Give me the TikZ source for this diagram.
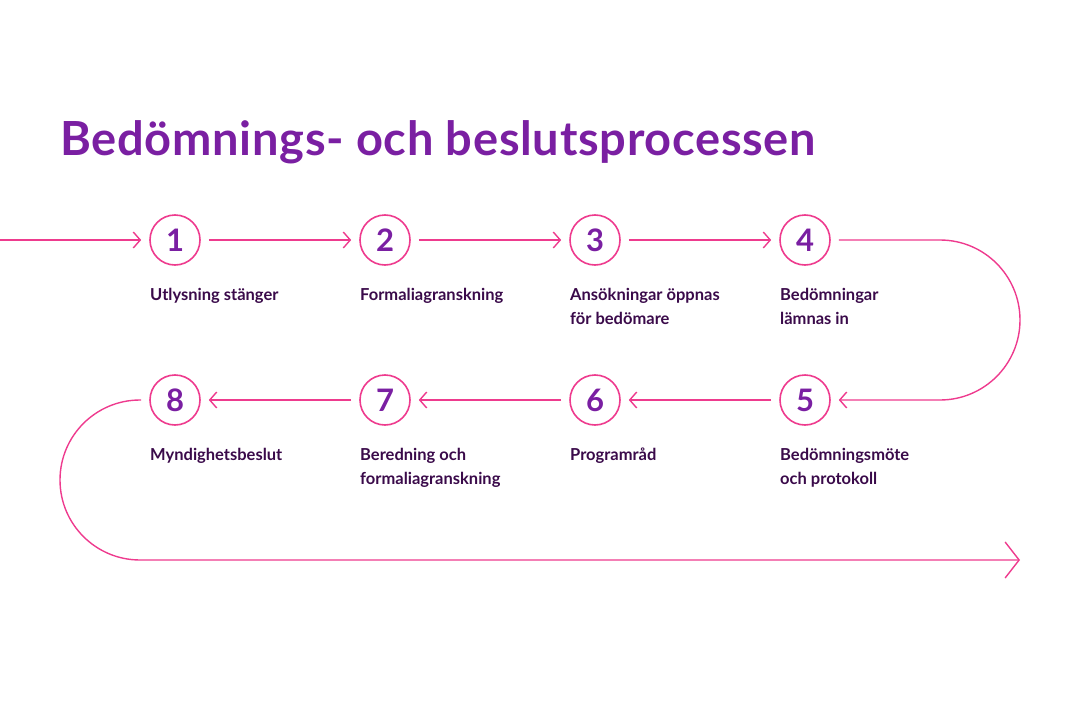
\documentclass[tikz,border=0pt]{standalone}
\usepackage{fontspec}
\setmainfont{Lato}
\usetikzlibrary{arrows.meta}
\definecolor{pinkc}{HTML}{EE3B8E}
\definecolor{purp}{HTML}{7A1FA2}
\definecolor{dark}{HTML}{3A0A4A}
\tikzset{
 num/.style={circle,draw=pinkc,line width=1.6pt,minimum size=50pt,inner sep=0pt,text=purp,font=\fontsize{31}{31}\selectfont\bfseries},
 lab/.style={anchor=north west,align=left,text=dark,inner sep=0pt,font=\fontsize{16.5}{24}\selectfont\bfseries},
 con/.style={draw=pinkc,line width=1.4pt,-{Straight Barb[length=7pt,width=16pt,line width=1.4pt]}},
}
\begin{document}
\begin{tikzpicture}[x=1pt,y=-1pt]
\useasboundingbox (0,0) rectangle (1080,720);
\node[anchor=base west,inner sep=0pt,text=purp,font=\fontsize{47}{47}\selectfont\bfseries] (title) at (60,155) {\addfontfeatures{LetterSpace=1.5}Bedömnings- och beslutsprocessen};
\node[num] (n1) at (175,240) {1};
\node[num] (n2) at (385,240) {2};
\node[num] (n3) at (595,240) {3};
\node[num] (n4) at (805,240) {4};
\node[num] (n5) at (805,400) {5};
\node[num] (n6) at (595,400) {6};
\node[num] (n7) at (385,400) {7};
\node[num] (n8) at (175,400) {8};
\node[lab] (l1) at (150,288) {Utlysning stänger};
\node[lab] (l2) at (360,288) {Formaliagranskning};
\node[lab] (l3) at (570,288) {Ansökningar öppnas\\för bedömare};
\node[lab] (l4) at (780,288) {Bedömningar\\lämnas in};
\node[lab] (l5) at (780,448) {Bedömningsmöte\\och protokoll};
\node[lab] (l6) at (570,448) {Programråd};
\node[lab] (l7) at (360,448) {Beredning och\\formaliagranskning};
\node[lab] (l8) at (150,448) {Myndighetsbeslut};
\coordinate (s) at (0,240);
\coordinate (e) at (1020,560);
\draw[con] (s) -- ([xshift=-8pt]n1.west);
\draw[con] ([xshift=8pt]n1.east) -- ([xshift=-8pt]n2.west);
\draw[con] ([xshift=8pt]n2.east) -- ([xshift=-8pt]n3.west);
\draw[con] ([xshift=8pt]n3.east) -- ([xshift=-8pt]n4.west);
\draw[con] ([xshift=8pt]n4.east) -- (940,240) arc[start angle=-90,end angle=90,radius=80] -- ([xshift=8pt]n5.east);
\draw[con] ([xshift=-8pt]n5.west) -- ([xshift=8pt]n6.east);
\draw[con] ([xshift=-8pt]n6.west) -- ([xshift=8pt]n7.east);
\draw[con] ([xshift=-8pt]n7.west) -- ([xshift=8pt]n8.east);
\draw[draw=pinkc,line width=1.4pt,-{Straight Barb[length=14pt,width=36pt,line width=1.4pt]}] ([xshift=-8pt]n8.west) -- (140,400) arc[start angle=-90,end angle=-270,radius=80] -- (e);
\end{tikzpicture}
\end{document}
